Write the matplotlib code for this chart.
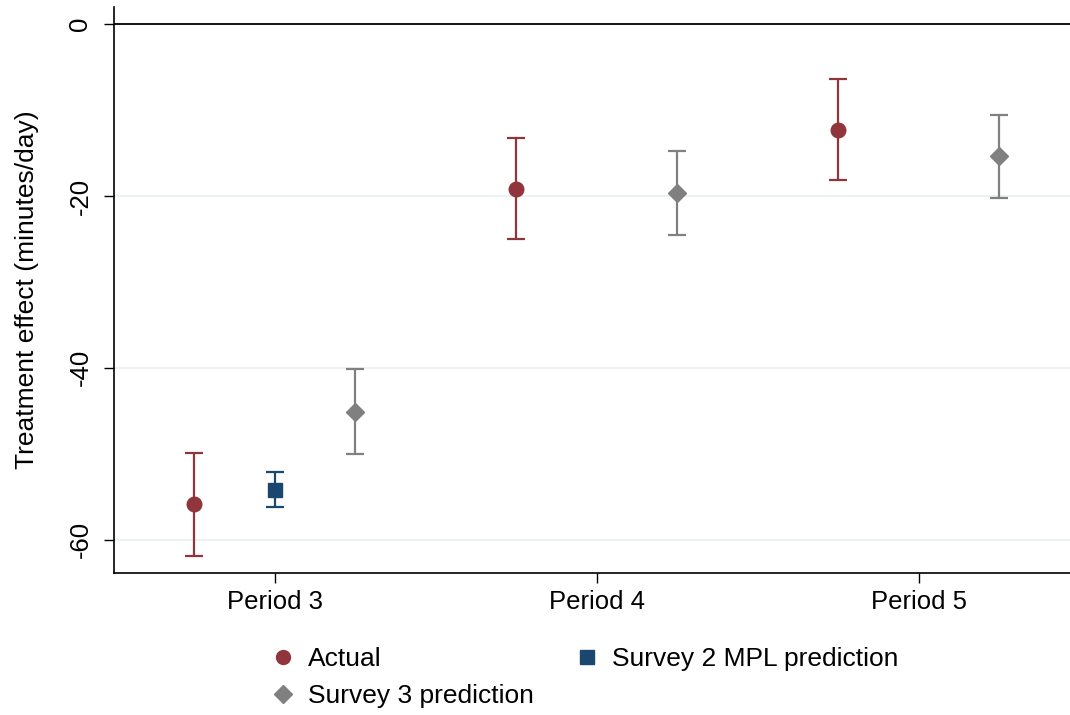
import matplotlib
matplotlib.use("Agg")
import matplotlib.pyplot as plt
from matplotlib.lines import Line2D

plt.rcParams["font.family"] = ["Liberation Sans", "DejaVu Sans"]

# ---- Data -------------------------------------------------------------------
periods = ["Period 3", "Period 4", "Period 5"]
period_pos = [1, 2, 3]

actual_est = [-55.9, -19.2, -12.3]
actual_lo = [-61.9, -25.0, -18.1]
actual_hi = [-49.9, -13.3, -6.4]

s2_est = [-54.2]
s2_lo = [-56.2]
s2_hi = [-52.1]

s3_est = [-45.1, -19.6, -15.4]
s3_lo = [-50.0, -24.5, -20.2]
s3_hi = [-40.1, -14.8, -10.6]

y_ticks = [0, -20, -40, -60]

# ---- Colours ----------------------------------------------------------------
c_act = "#90353b"
c_s2 = "#1a476f"
c_s3 = "#808080"

fig = plt.figure(figsize=(10.7, 7.15), dpi=100)
ax = fig.add_axes([114 / 1070, 1 - 573 / 715, (1070 - 114) / 1070, (573 - 7) / 715])


def draw(xs, est, lo, hi, color, marker, ms):
    yerr = [[e - l for e, l in zip(est, lo)], [h - e for e, h in zip(est, hi)]]
    ax.errorbar(xs, est, yerr=yerr, fmt=marker, color=color, ms=ms,
                elinewidth=1.6, capsize=6.5, capthick=1.6, zorder=3)


draw([p - 0.25 for p in period_pos], actual_est, actual_lo, actual_hi, c_act, "o", 10.5)
draw([period_pos[0]], s2_est, s2_lo, s2_hi, c_s2, "s", 10.5)
draw([p + 0.25 for p in period_pos], s3_est, s3_lo, s3_hi, c_s3, "D", 9.5)

ax.set_xlim(0.5, 3.47)
ax.set_ylim(-63.9, 2.0)
ax.set_xticks(period_pos)
ax.set_xticklabels(periods, fontsize=18.5)
ax.set_yticks(y_ticks)
ax.set_yticklabels([str(t) for t in y_ticks], fontsize=18.5, rotation=90, va="center")
ax.tick_params(axis="both", length=7.5, width=1, color="black")
ax.tick_params(axis="y", pad=8)
ax.tick_params(axis="x", pad=5)

for t in y_ticks[1:]:
    ax.axhline(t, color="#eaf2f3", lw=1.5, zorder=1)
ax.axhline(0, color="black", lw=1.3, zorder=2)

ax.spines["top"].set_visible(False)
ax.spines["right"].set_visible(False)
ax.spines["left"].set_linewidth(1.2)
ax.spines["bottom"].set_linewidth(1.2)

ax.set_ylabel("Treatment effect (minutes/day)", fontsize=19, labelpad=21)

handles = [
    Line2D([], [], ls="none", marker="o", color=c_act, ms=10, label="Actual"),
    Line2D([], [], ls="none", marker="D", color=c_s3, ms=9, label="Survey 3 prediction"),
    Line2D([], [], ls="none", marker="s", color=c_s2, ms=10, label="Survey 2 MPL prediction"),
]
fig.legend(handles=handles, ncol=2, frameon=False, fontsize=19,
           loc="center left", bbox_to_anchor=(270 / 1070, 1 - 677.5 / 715),
           borderpad=0, borderaxespad=0,
           handletextpad=0.45, columnspacing=1.5, labelspacing=0.5, handlelength=1.0)

fig.savefig("out.png", dpi=100)
